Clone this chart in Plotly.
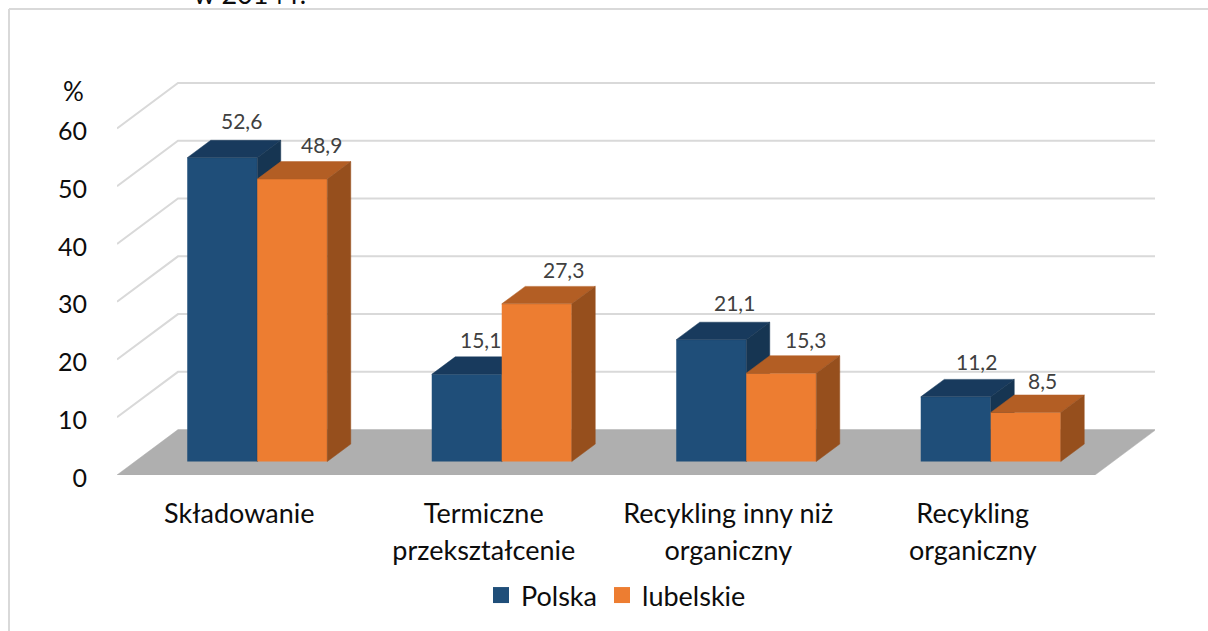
import plotly.graph_objects as go

# ---------- data ----------
categories = ["Składowanie", "Termiczne<br>przekształcenie", "Recykling inny niż<br>organiczny", "Recykling<br>organiczny"]
polska = [52.6, 15.1, 21.1, 11.2]
lubelskie = [48.9, 27.3, 15.3, 8.5]
y_ticks = [0, 10, 20, 30, 40, 50, 60]
title_text = "w 2014 r."

# ---------- scale and style ----------
W, H = 1208, 631
ML, MR, MT, MB = 117, 53, 60, 155
PX_X = 244.5            # px per category
PX_Y = 5.79             # px per percent
FONT = "Lato"
WALL_DX, WALL_DY = 61 / PX_X, 45.5 / PX_Y       # depth of the chart box
BAR_DX, BAR_DY = 23.5 / PX_X, 17.5 / PX_Y       # depth of a bar
SHIFT_X, SHIFT_Y = 18 / PX_X, 13.5 / PX_Y       # bar front plane within the box
BAR_W = 70 / PX_X
x_range = [-0.5, -0.5 + (W - ML - MR) / PX_X]
y_range = [0, (H - MT - MB) / PX_Y]
label_dx_polska = [19, 14, 23, 21]
label_dx_lubelskie = [29, 27, 24, 17]
label_dy_polska = [20, 17, 20, 18]
label_dy_lubelskie = [17, 17, 16, 14]
BLUE = dict(front="#1F4E79", top="#183A5D", side="#163552")
ORANGE = dict(front="#ED7D31", top="#B35E24", side="#964F1D")
GRID = "#D9D9D9"
FLOOR = "#AFAFAF"


def poly(xs, ys, color, xa, ya):
    return go.Scatter(x=xs, y=ys, mode="lines", fill="toself", fillcolor=color,
                      line=dict(color=color, width=0.5), showlegend=False,
                      hoverinfo="skip", xaxis=xa, yaxis=ya)


fig = go.Figure()

# back wall grid lines (main layer)
for v in y_ticks[1:]:
    fig.add_trace(go.Scatter(
        x=[x_range[0], x_range[0] + WALL_DX, x_range[1]],
        y=[v, v + WALL_DY, v + WALL_DY], mode="lines",
        line=dict(color=GRID, width=2), showlegend=False, hoverinfo="skip"))

# floor
right = len(categories) - 0.5
fig.add_trace(poly([x_range[0], right, right + WALL_DX, x_range[0] + WALL_DX, x_range[0]],
                   [0, 0, WALL_DY, WALL_DY, 0], FLOOR, "x", "y"))

# legend entries
for name, col in (("Polska", BLUE["front"]), ("lubelskie", ORANGE["front"])):
    fig.add_trace(go.Scatter(x=[None], y=[None], mode="markers", name=name,
                             marker=dict(symbol="square", size=16, color=col)))


def add_series(values, offset, colors, xa, ya):
    xc = [i + SHIFT_X + offset for i in range(len(values))]
    fig.add_trace(go.Bar(x=xc, y=values, base=[SHIFT_Y] * len(values), width=BAR_W,
                         marker=dict(color=colors["front"], line_width=0),
                         showlegend=False, hoverinfo="skip", xaxis=xa, yaxis=ya))
    for c, v in zip(xc, values):
        l, r = c - BAR_W / 2, c + BAR_W / 2
        t = v + SHIFT_Y
        fig.add_trace(poly([l, r, r + BAR_DX, l + BAR_DX, l],
                           [t, t, t + BAR_DY, t + BAR_DY, t], colors["top"], xa, ya))
        fig.add_trace(poly([r, r + BAR_DX, r + BAR_DX, r, r],
                           [SHIFT_Y, SHIFT_Y + BAR_DY, t + BAR_DY, t, SHIFT_Y], colors["side"], xa, ya))
    return xc


xc_p = add_series(polska, -BAR_W / 2, BLUE, "x2", "y2")
xc_l = add_series(lubelskie, BAR_W / 2, ORANGE, "x3", "y3")

annotations = []
for xs, vals, dxs, dys in ((xc_p, polska, label_dx_polska, label_dy_polska),
                           (xc_l, lubelskie, label_dx_lubelskie, label_dy_lubelskie)):
    for c, v, d, g in zip(xs, vals, dxs, dys):
        annotations.append(dict(x=c, y=v + SHIFT_Y + BAR_DY, xref="x", yref="y",
                                text=f"{v:.1f}".replace(".", ","), showarrow=False,
                                xshift=d, yshift=g,
                                font=dict(family=FONT, size=21, color="#404040")))
annotations.append(dict(x=(73 - ML) / (W - ML - MR), xref="paper", xanchor="center", y=66.5, yref="y", text="%",
                        showarrow=False, font=dict(family=FONT, size=26, color="#0D0D0D")))

overlay = dict(range=x_range, visible=False, fixedrange=True)
overlay_y = dict(range=y_range, visible=False, fixedrange=True)
fx = lambda px: (px - ML) / (W - ML - MR)
fy = lambda px: 1 - (px - MT) / (H - MT - MB)

fig.update_layout(
    width=W, height=H, autosize=False,
    margin=dict(l=ML, r=MR, t=MT, b=MB, pad=0),
    paper_bgcolor="white", plot_bgcolor="rgba(0,0,0,0)",
    barmode="overlay", font=dict(family=FONT, color="#0D0D0D"),
    title=dict(text=title_text, x=250 / W, xanchor="center", y=1 - 4 / H, yanchor="bottom",
               font=dict(family=FONT, size=27, color="#0D0D0D"), pad=dict(b=0)),
    xaxis=dict(range=x_range, tickmode="array", tickvals=list(range(len(categories))),
               ticktext=[f'<span style="font-size:27px">{c}</span>' for c in categories],
               tickfont=dict(family=FONT, size=28.5, color="#0D0D0D"),
               ticks="outside", ticklen=13, tickcolor="rgba(0,0,0,0)",
               showgrid=False, zeroline=False, showline=False, fixedrange=True),
    yaxis=dict(range=y_range, tickmode="array", tickvals=y_ticks,
               tickfont=dict(family=FONT, size=25, color="#0D0D0D"),
               ticks="outside", ticklen=24, tickcolor="rgba(0,0,0,0)", ticklabelshift=3,
               showgrid=False, zeroline=False, showline=False, fixedrange=True),
    xaxis2=dict(overlay, overlaying="x", anchor="y2"),
    yaxis2=dict(overlay_y, overlaying="y", anchor="x2"),
    xaxis3=dict(overlay, overlaying="x", anchor="y3"),
    yaxis3=dict(overlay_y, overlaying="y", anchor="x3"),
    legend=dict(orientation="h", x=fx(481), xanchor="left", y=fy(620), yanchor="bottom",
                font=dict(family=FONT, size=27, color="#0D0D0D"),
                bgcolor="rgba(0,0,0,0)"),
    annotations=annotations,
    shapes=[dict(type="line", xref="paper", yref="paper", x0=fx(9), x1=fx(W + 5), y0=fy(9), y1=fy(9),
                 line=dict(color=GRID, width=2), layer="below"),
            dict(type="line", xref="paper", yref="paper", x0=fx(9), x1=fx(9), y0=fy(9), y1=fy(H + 5),
                 line=dict(color=GRID, width=2), layer="below")],
)

fig.write_html("out.html", config=dict(displayModeBar=False),
               post_script="document.body.style.margin='0';document.body.style.overflow='hidden';")
